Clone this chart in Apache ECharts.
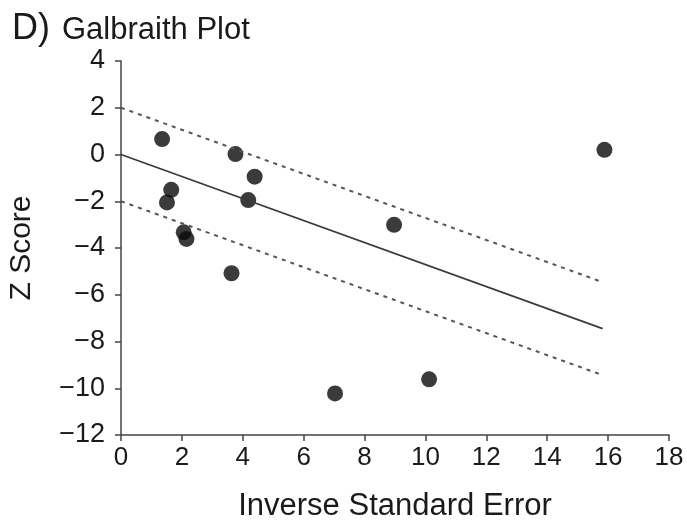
<!DOCTYPE html>
<html><head><meta charset="utf-8">
<script src="https://cdn.jsdelivr.net/npm/echarts@6/dist/echarts.min.js"></script>
<style>html,body{margin:0;padding:0;background:#fff}#c{width:687px;height:524px}</style>
</head><body><div id="c"></div>
<script>
var invSE = [1.35, 3.76, 4.39, 1.65, 1.51, 4.18, 2.06, 2.15, 3.63, 8.97, 7.03, 10.12, 15.88];
var zScore = [0.66, 0.02, -0.95, -1.51, -2.05, -1.95, -3.33, -3.61, -5.08, -3.01, -10.22, -9.62, 0.2];
var lineX = [0, 15.82];
var fitLine = [0, -7.45];
var upperLine = [2, -5.46];
var lowerLine = [-2, -9.44];
var xTicks = [0, 2, 4, 6, 8, 10, 12, 14, 16, 18];
var yTicks = [4, 2, 0, -2, -4, -6, -8, -10, -12];

function pairs(xs, ys){ return xs.map(function(x,i){ return [x, ys[i]]; }); }
var font = 'Liberation Sans, Arial, sans-serif';
var axisColor = '#444';
var txt = '#1a1a1a';
var chart = echarts.init(document.getElementById('c'));
chart.setOption({
  animation: false,
  backgroundColor: '#fff',
  title: {
    text: '{a|D)}{b|Galbraith Plot}',
    left: 7, top: 6,
    textStyle: { rich: {
      a: { fontSize: 36, fontFamily: font, color: txt, fontWeight: 'normal', verticalAlign: 'bottom', padding: [0,12,0,0] },
      b: { fontSize: 31, fontFamily: font, color: txt, fontWeight: 'normal', verticalAlign: 'bottom', padding: [0,0,1,0] }
    } }
  },
  grid: { left: 121, right: 18, top: 61, bottom: 89, containLabel: false, outerBoundsMode: 'none' },
  xAxis: {
    type: 'value', min: 0, max: 18, interval: 2,
    name: 'Inverse Standard Error', nameLocation: 'middle', nameGap: 56,
    nameTextStyle: { fontSize: 31, fontFamily: font, color: txt },
    axisLine: { show: true, onZero: false, lineStyle: { color: axisColor, width: 1.5 } },
    axisTick: { show: true, length: 6, lineStyle: { color: axisColor, width: 1.5 } },
    axisLabel: { fontSize: 26, fontFamily: font, color: txt, margin: 10 },
    splitLine: { show: false }
  },
  yAxis: {
    type: 'value', min: -12, max: 4, interval: 2,
    name: 'Z Score', nameLocation: 'middle', nameGap: 84, nameRotate: 90,
    nameTextStyle: { fontSize: 30, fontFamily: font, color: txt },
    axisLine: { show: true, onZero: false, lineStyle: { color: axisColor, width: 1.5 } },
    axisTick: { show: true, length: 6, lineStyle: { color: axisColor, width: 1.5 } },
    axisLabel: { fontSize: 27, fontFamily: font, color: txt, margin: 16,
      formatter: function(v){ return String(v).replace('-', '\u2212'); } },
    splitLine: { show: false }
  },
  series: [
    { type: 'line', data: pairs(lineX, fitLine), symbol: 'none',
      lineStyle: { color: '#3a3a3a', width: 1.7, type: 'solid' } },
    { type: 'line', data: pairs(lineX, upperLine), symbol: 'none',
      lineStyle: { color: '#555', width: 2, type: [4, 5] } },
    { type: 'line', data: pairs(lineX, lowerLine), symbol: 'none',
      lineStyle: { color: '#555', width: 2, type: [4, 5] } },
    { type: 'scatter', data: pairs(invSE, zScore), symbol: 'circle', symbolSize: 16,
      itemStyle: { color: '#0a0a0a' } }
  ]
});
</script></body></html>
